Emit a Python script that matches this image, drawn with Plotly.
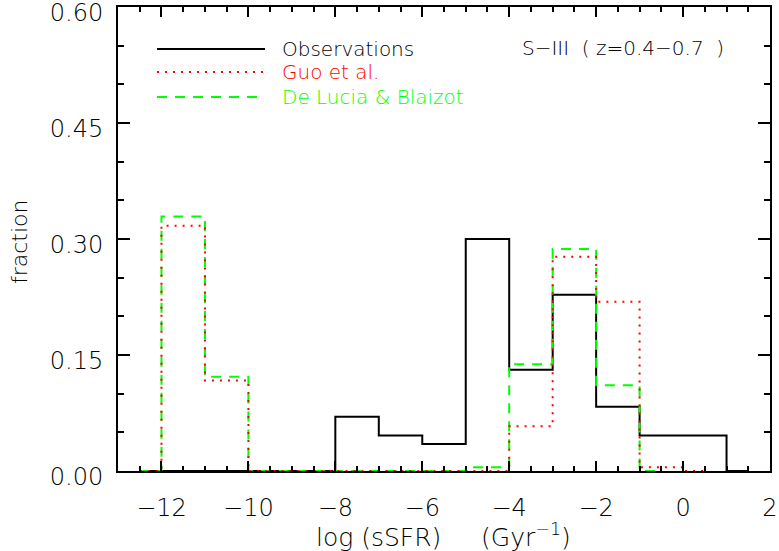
import plotly.graph_objects as go

# ---- data ----
obs_centers = [-12.5, -11.5, -10.5, -9.5, -8.5, -7.5, -6.5, -5.5, -4.5, -3.5, -2.5, -1.5, -0.5, 0.5, 1.5]
obs_frac = [0, 0, 0, 0, 0, 0.070, 0.046, 0.035, 0.300, 0.131, 0.228, 0.083, 0.046, 0.046, 0]

guo_centers = [-12.5, -11.5, -10.5, -9.5, -8.5, -7.5, -6.5, -5.5, -4.5, -3.5, -2.5, -1.5, -0.5, 0.5]
guo_frac = [0, 0.317, 0.117, 0, 0, 0, 0, 0, 0, 0.058, 0.277, 0.219, 0.005, 0]

dlb_centers = [-12.5, -11.5, -10.5, -9.5, -8.5, -7.5, -6.5, -5.5, -4.5, -3.5, -2.5, -1.5, -0.5]
dlb_frac = [0, 0.329, 0.122, 0, 0, 0, 0, 0, 0.005, 0.138, 0.287, 0.111, 0]

y_tickvals = [0.0, 0.15, 0.30, 0.45, 0.60]
y_ticktext = ["0.00", "0.15", "0.30", "0.45", "0.60"]
x_tickvals = [-12, -10, -8, -6, -4, -2, 0, 2]
x_ticktext = ["\u221212", "\u221210", "\u22128", "\u22126", "\u22124", "\u22122", "0", "2"]

legend_names = ["Observations", "Guo et al.", "De Lucia & Blaizot"]
legend_colors = ["#000000", "#ff0000", "#00ff00"]
legend_dash = ["solid", "2px,6px", "10px,8px"]
panel_label = "S\u2212III\u00a0\u00a0(\u00a0z=0.4\u22120.7\u00a0\u00a0)"

FONT = "DejaVu Sans"
WEIGHT = 300

fig = go.Figure()
fig.add_trace(go.Scatter(x=obs_centers, y=obs_frac, mode="lines",
                         line=dict(shape="hvh", color=legend_colors[0], width=2, dash=legend_dash[0]),
                         showlegend=False, hoverinfo="skip"))
fig.add_trace(go.Scatter(x=dlb_centers, y=dlb_frac, mode="lines",
                         line=dict(shape="hvh", color=legend_colors[2], width=2, dash=legend_dash[2]),
                         showlegend=False, hoverinfo="skip"))
fig.add_trace(go.Scatter(x=guo_centers, y=guo_frac, mode="lines",
                         line=dict(shape="hvh", color=legend_colors[1], width=2, dash=legend_dash[1]),
                         showlegend=False, hoverinfo="skip"))

# custom legend
L, R, T, B = 118, 9, 7, 80
W, H = 779, 551
pw, ph = W - L - R, H - T - B

def px(xp):
    return (xp - L) / pw

def py(yp):
    return (T + ph - yp) / ph

legend_y = [49, 72, 97]
for name, col, dash, yy in zip(legend_names, legend_colors, legend_dash, legend_y):
    fig.add_shape(type="line", xref="paper", yref="paper",
                  x0=px(157), x1=px(265), y0=py(yy), y1=py(yy),
                  line=dict(color=col, width=2, dash=dash))
    fig.add_annotation(xref="paper", yref="paper", x=px(280), y=py(yy),
                       text=name, showarrow=False, xanchor="left", yanchor="middle",
                       font=dict(family=FONT, size=20, color=col, weight=WEIGHT))

fig.add_annotation(xref="paper", yref="paper", x=px(520), y=py(48),
                   text=panel_label, showarrow=False, xanchor="left", yanchor="middle",
                   font=dict(family=FONT, size=20, color="black", weight=WEIGHT))

# axis titles
fig.add_annotation(xref="paper", yref="paper", x=px(443), y=py(535),
                   text="log (sSFR)\u00a0\u00a0\u00a0\u00a0\u00a0(Gyr<sup>\u22121</sup>)", showarrow=False,
                   xanchor="center", yanchor="middle",
                   font=dict(family=FONT, size=25, color="black", weight=WEIGHT))
fig.add_annotation(xref="paper", yref="paper", x=px(19), y=py(241),
                   text="fraction", showarrow=False, textangle=-90,
                   xanchor="center", yanchor="middle",
                   font=dict(family=FONT, size=22, color="black", weight=WEIGHT))

axis_common = dict(showline=True, linecolor="black", linewidth=2, mirror="ticks",
                   ticks="inside", tickcolor="black", tickwidth=2, showgrid=False, zeroline=False,
                   ticklabeloverflow="allow",
                   tickfont=dict(family=FONT, size=24, color="black", weight=WEIGHT))

fig.update_xaxes(range=[-13, 2], tickmode="array", tickvals=x_tickvals, ticktext=x_ticktext, ticklen=10,
                 minor=dict(dtick=0.5, tick0=-13, ticklen=5, ticks="inside", tickcolor="black", tickwidth=2, showgrid=False),
                 ticklabelstandoff=14, **axis_common)
fig.update_yaxes(range=[0, 0.60001], tickmode="array", tickvals=y_tickvals, ticktext=y_ticktext, ticklen=12,
                 minor=dict(dtick=0.05, tick0=0, ticklen=6, ticks="inside", tickcolor="black", tickwidth=2, showgrid=False),
                 ticklabelstandoff=8, ticklabelshift=6, **axis_common)

fig.update_layout(width=W, height=H, margin=dict(l=L, r=R, t=T, b=B, autoexpand=False),
                  plot_bgcolor="white", paper_bgcolor="white", showlegend=False)

fig.write_html("out.html")
